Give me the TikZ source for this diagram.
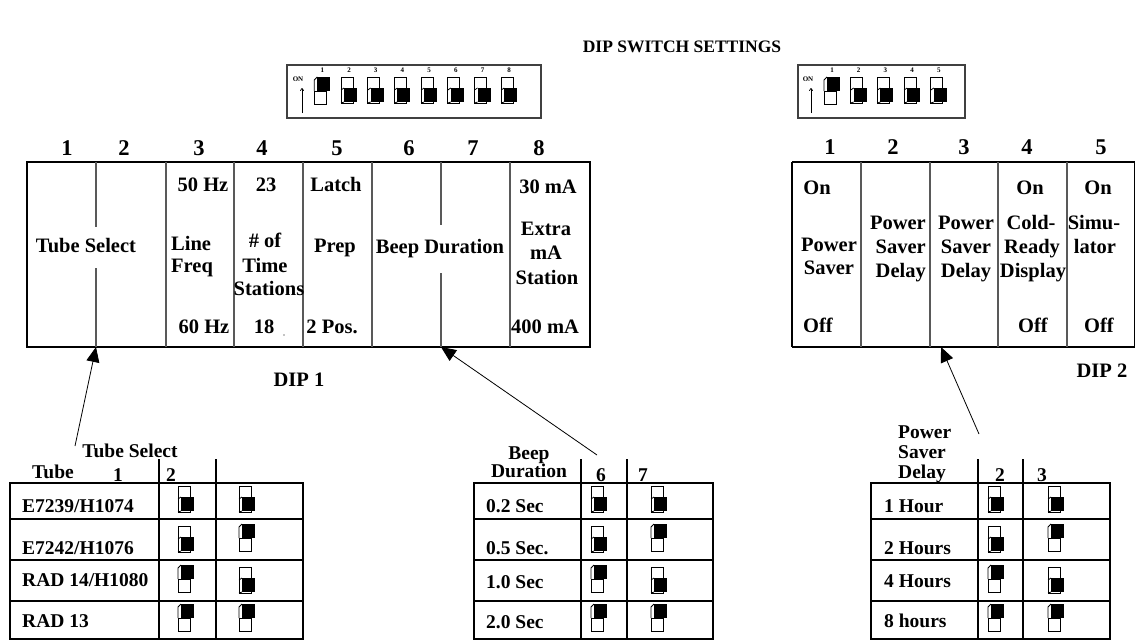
\documentclass[tikz,border=0pt]{standalone}
\usepackage{fontspec}
\setmainfont{Liberation Serif}
\usetikzlibrary{arrows.meta}
\newcounter{lblno}
\begin{document}
\begin{tikzpicture}[x=1pt,y=-1pt,
  tl/.style={font=\fontsize{19.5}{22}\selectfont\bfseries, inner sep=0pt},
  tb/.style={font=\fontsize{20.5}{23}\selectfont\bfseries, inner sep=0pt},
  hd/.style={font=\fontsize{22.5}{25}\selectfont\bfseries, inner sep=0pt},
  ttl/.style={font=\fontsize{17.5}{20}\selectfont\bfseries, inner sep=0pt},
  sm/.style={font=\fontsize{7}{8}\selectfont\bfseries, inner sep=0pt},
  tbl/.style={line width=1.2pt, draw=black},
  col/.style={line width=1.1pt, draw=black!65},
  swbox/.style={line width=1.4pt, draw=black!75},
  arr/.style={line width=0.8pt, -{Triangle[length=15pt,width=13pt]}},
  onarr/.style={line width=0.7pt, -{To[length=3pt,width=4pt]}},
  swoff/.pic={
    \draw[line width=0.8pt] (0,0) rectangle (12,26);
    \fill (3,11) rectangle (16,25);
    \draw[line width=0.8pt] (0,13) -- (3,11);
    \draw[line width=0.8pt] (0,26) -- (3,25);
  },
  swon/.pic={
    \fill (3,0) rectangle (16,14);
    \draw[line width=0.8pt] (0,14) rectangle (12,27);
    \draw[line width=0.8pt] (0,14) -- (0,3) -- (3,0);
  }]
\newcommand\Tc[4][tl]{\stepcounter{lblno}\node[#1, anchor=base] (lb\arabic{lblno}) at (#2,#3+7) {#4};}
\newcommand\Tl[4][tl]{\stepcounter{lblno}\node[#1, anchor=base west] (lb\arabic{lblno}) at (#2,#3+7) {#4};}
\newcommand\Tr[4][tl]{\stepcounter{lblno}\node[#1, anchor=base east] (lb\arabic{lblno}) at (#2,#3+7) {#4};}
\useasboundingbox (0,0) rectangle (1135,641);

% title
\node[ttl] (title) at (682,47) {DIP SWITCH SETTINGS};

% ---------- DIP 1 switch graphic ----------
\draw[swbox] (287,65) rectangle (541,118);
\node[sm] (on1) at (298,79) {ON};
\coordinate (on1b) at (302,113);
\coordinate (on1t) at (302,88);
\draw[onarr] (on1b) -- (on1t);
\foreach \k in {0,...,7}{
  \pgfmathsetmacro\xx{314.3+26.7*\k}
  \pgfmathtruncatemacro\nn{\k+1}
  \node[sm] (d1n\nn) at (\xx+8,70) {\nn};
  \ifnum\k=0 \pic at (\xx,77) {swon}; \else \pic at (\xx,77) {swoff}; \fi
}

% ---------- DIP 2 switch graphic ----------
\draw[swbox] (798,65) rectangle (965,118);
\node[sm] (on2) at (808,79) {ON};
\coordinate (on2b) at (811,113);
\coordinate (on2t) at (811,88);
\draw[onarr] (on2b) -- (on2t);
\foreach \k in {0,...,4}{
  \pgfmathsetmacro\xx{824+26.7*\k}
  \pgfmathtruncatemacro\nn{\k+1}
  \node[sm] (d2n\nn) at (\xx+8,70) {\nn};
  \ifnum\k=0 \pic at (\xx,77) {swon}; \else \pic at (\xx,77) {swoff}; \fi
}

% ---------- DIP 1 table ----------
\Tc[hd]{67}{148}{1}\Tc[hd]{124}{148}{2}\Tc[hd]{199}{148}{3}\Tc[hd]{262}{148}{4}
\Tc[hd]{337}{148}{5}\Tc[hd]{409}{148}{6}\Tc[hd]{473}{148}{7}\Tc[hd]{539}{148}{8}
\draw[tbl] (27,162) rectangle (590,347);
\foreach \xx in {166,234,303,372,510} \draw[col] (\xx,162) -- (\xx,347);
\draw[col] (96,162) -- (96,227);
\draw[col] (96,268) -- (96,347);
\draw[col] (441,162) -- (441,225);
\draw[col] (441,273) -- (441,347);
\coordinate (tsel) at (96,347);
\coordinate (beep) at (441,347);

\Tc[tb]{203}{184}{50 Hz}
\Tc[tb]{266}{184}{23}
\Tc[tb]{336}{184}{Latch}
\Tc[tb]{548}{186}{30 mA}
\Tc[tb]{86}{245}{Tube Select}
\Tl[tb]{171}{243}{Line}
\Tl[tb]{171}{265}{Freq}
\Tc[tb]{265}{240}{\# of}
\Tc[tb]{265}{265}{Time}
\Tc[tb]{269}{288}{Stations}
\Tc[tb]{335}{245}{Prep}
\Tc[tb]{440}{246}{Beep Duration}
\Tc[tb]{546}{228}{Extra}
\Tc[tb]{546}{252}{mA}
\Tc[tb]{547}{277}{Station}
\Tc[tb]{204}{326}{60 Hz}
\Tc[tb]{264}{326}{18}
\fill (284,335) circle (0.7);
\Tc[tb]{332}{326}{2 Pos.}
\Tc[tb]{545}{326}{400 mA}
\Tc[tb]{299}{379}{DIP 1}

% ---------- DIP 2 table ----------
\Tc[hd]{830}{147}{1}\Tc[hd]{893}{147}{2}\Tc[hd]{964}{147}{3}\Tc[hd]{1027}{147}{4}\Tc[hd]{1101}{147}{5}
\draw[tbl] (792,162) -- (1135,162);
\draw[tbl] (792,347) -- (1135,347);
\draw[tbl] (792,162) -- (792,347);
\draw[tbl] (1134.4,162) -- (1134.4,347);
\foreach \xx in {861,930,998,1067} \draw[col] (\xx,162) -- (\xx,347);
\coordinate (psd) at (941,347);

\Tc[tb]{817}{187}{On}
\Tc[tb]{829}{244}{Power}
\Tc[tb]{829}{267}{Saver}
\Tc[tb]{818}{325}{Off}
\Tr[tb]{926}{222}{Power}
\Tr[tb]{926}{246}{Saver}
\Tr[tb]{926}{270}{Delay}
\Tc[tb]{966}{222}{Power}
\Tc[tb]{966}{246}{Saver}
\Tc[tb]{966}{270}{Delay}
\Tc[tb]{1030}{187}{On}
\Tc[tb]{1031}{222}{Cold-}
\Tc[tb]{1032}{246}{Ready}
\Tc[tb]{1033}{270}{Display}
\Tc[tb]{1033}{325}{Off}
\Tc[tb]{1098}{187}{On}
\Tc[tb]{1094}{222}{Simu-}
\Tc[tb]{1095}{246}{lator}
\Tc[tb]{1099}{325}{Off}
\Tc[tb]{1102}{370}{DIP 2}

% ---------- arrows ----------
\coordinate (a1s) at (75,446);
\coordinate (a2s) at (597,455);
\coordinate (a3s) at (979,434);
\draw[arr] (a1s) -- (tsel);
\draw[arr] (a2s) -- (beep);
\draw[arr] (a3s) -- (psd);

% ---------- Tube select table ----------
\Tc{130}{450}{Tube Select}
\Tc{53}{471}{Tube}
\Tc{118}{474}{1}
\Tc{171}{474}{2}
\draw[tbl] (10,483) rectangle (303,639);
\foreach \yy in {519,560,601} \draw[tbl] (10,\yy) -- (303,\yy);
\foreach \xx in {159,216} \draw[tbl] (\xx,459) -- (\xx,639);
\Tl{22}{505}{E7239/H1074}
\Tl{22}{547}{E7242/H1076}
\Tl{22}{579}{RAD 14/H1080}
\Tl{22}{620}{RAD 13}

% ---------- Beep duration table ----------
\Tc{529}{452}{Beep}
\Tc{529}{470}{Duration}
\Tc{601}{474}{6}
\Tc{643}{474}{7}
\draw[tbl] (474,483) rectangle (713,639);
\foreach \yy in {519,560,601} \draw[tbl] (474,\yy) -- (713,\yy);
\foreach \xx in {581,627} \draw[tbl] (\xx,459) -- (\xx,639);
\Tl{486}{505}{0.2 Sec}
\Tl{486}{547}{0.5 Sec.}
\Tl{486}{581}{1.0 Sec}
\Tl{486}{621}{2.0 Sec}

% ---------- Power saver delay table ----------
\Tl{898}{431}{Power}
\Tl{898}{451}{Saver}
\Tl{898}{471}{Delay}
\Tc{1000}{474}{2}
\Tc{1042}{474}{3}
\draw[tbl] (871,483) rectangle (1110,639);
\foreach \yy in {519,560,601} \draw[tbl] (871,\yy) -- (1110,\yy);
\foreach \xx in {978,1023} \draw[tbl] (\xx,459) -- (\xx,639);
\Tl{884}{505}{1 Hour}
\Tl{884}{547}{2 Hours}
\Tl{884}{580}{4 Hours}
\Tl{884}{620}{8 hours}

% ---------- switch icons in tables ----------
\foreach \xa/\xb in {178/239, 591/651, 988/1048}{
  \pic at (\xa,486) {swoff}; \pic at (\xb,486) {swoff};
  \pic at (\xa,526) {swoff}; \pic at (\xb,524) {swon};
  \pic at (\xa,565) {swon};  \pic at (\xb,567) {swoff};
  \pic at (\xa,604) {swon};  \pic at (\xb,604) {swon};
}
\end{tikzpicture}
\end{document}
